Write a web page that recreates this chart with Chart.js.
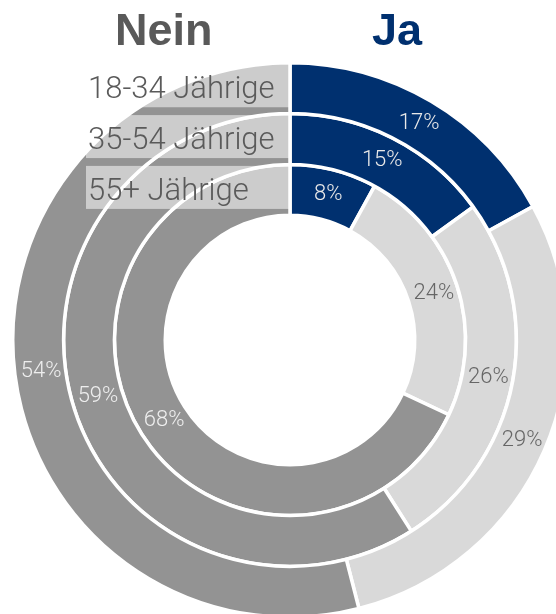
<!DOCTYPE html>
<html lang="de">
<head>
    <meta charset="UTF-8">
    <title>Ja / Nein nach Altersgruppe</title>
    <script src="https://cdn.jsdelivr.net/npm/chart.js"></script>
    <style>
        html, body { margin: 0; padding: 0; overflow: hidden; background: #fff; }
        #wrap { position: absolute; left: 0; top: 0; width: 580px; height: 619px; }
    </style>
</head>
<body>
    <div id="wrap"><canvas id="myChart" width="580" height="619"></canvas></div>
    <script>
        // Daten
        const categories = ['Ja', 'Weiß nicht', 'Nein'];
        const groups = ['18-34 Jährige', '35-54 Jährige', '55+ Jährige'];
        const ja = [17, 15, 8];
        const unsure = [29, 26, 24];
        const nein = [54, 59, 68];

        const colors = ['#00306f', '#d9d9d9', '#939393'];
        const labelColors = ['#e9e9e9', '#666666', '#eeeeee'];

        // Titel, Altersgruppen-Boxen und Prozentwerte
        const overlay = {
            id: 'overlay',
            afterDatasetsDraw(chart) {
                const ctx = chart.ctx;
                ctx.save();

                // Titel
                ctx.textBaseline = 'alphabetic';
                ctx.textAlign = 'left';
                ctx.font = 'bold 45px "Liberation Sans", Arial, sans-serif';
                ctx.fillStyle = '#595959';
                ctx.fillText(categories[2], 115, 45);
                ctx.fillStyle = colors[0];
                ctx.fillText(categories[0], 372, 45);

                // Prozentwerte
                ctx.font = '300 22px Roboto, "Noto Sans", sans-serif';
                ctx.textAlign = 'center';
                ctx.textBaseline = 'middle';
                chart.data.datasets.forEach((ds, i) => {
                    chart.getDatasetMeta(i).data.forEach((arc, j) => {
                        const p = arc.tooltipPosition();
                        ctx.fillStyle = labelColors[j];
                        ctx.fillText(ds.data[j] + '%', p.x + 1, p.y);
                    });
                });

                // Boxen mit Altersgruppen
                ctx.textAlign = 'left';
                ctx.textBaseline = 'alphabetic';
                ctx.font = '300 31px Roboto, "Noto Sans", sans-serif';
                chart.data.datasets.forEach((ds, i) => {
                    const arc = chart.getDatasetMeta(i).data[0];
                    const top = arc.y - arc.outerRadius + 1.5;
                    ctx.fillStyle = 'rgba(255,255,255,0.53)';
                    ctx.fillRect(86, top, arc.x - 1 - 86, 43);
                    ctx.fillStyle = '#5a5a5a';
                    ctx.fillText(ds.label, 88, top + 34);
                });

                ctx.restore();
            }
        };

        const ctx = document.getElementById('myChart').getContext('2d');
        const myChart = new Chart(ctx, {
            type: 'doughnut',
            data: {
                labels: categories,
                datasets: groups.map((g, i) => ({
                    label: g,
                    data: [ja[i], unsure[i], nein[i]],
                    backgroundColor: colors,
                    borderColor: '#ffffff',
                    borderWidth: 3.5
                }))
            },
            options: {
                responsive: false,
                animation: false,
                events: [],
                cutout: '45%',
                layout: { padding: { left: 11, right: 11, top: 61, bottom: 0 } },
                plugins: {
                    legend: { display: false },
                    tooltip: { enabled: false }
                }
            },
            plugins: [overlay]
        });
    </script>
</body>
</html>
